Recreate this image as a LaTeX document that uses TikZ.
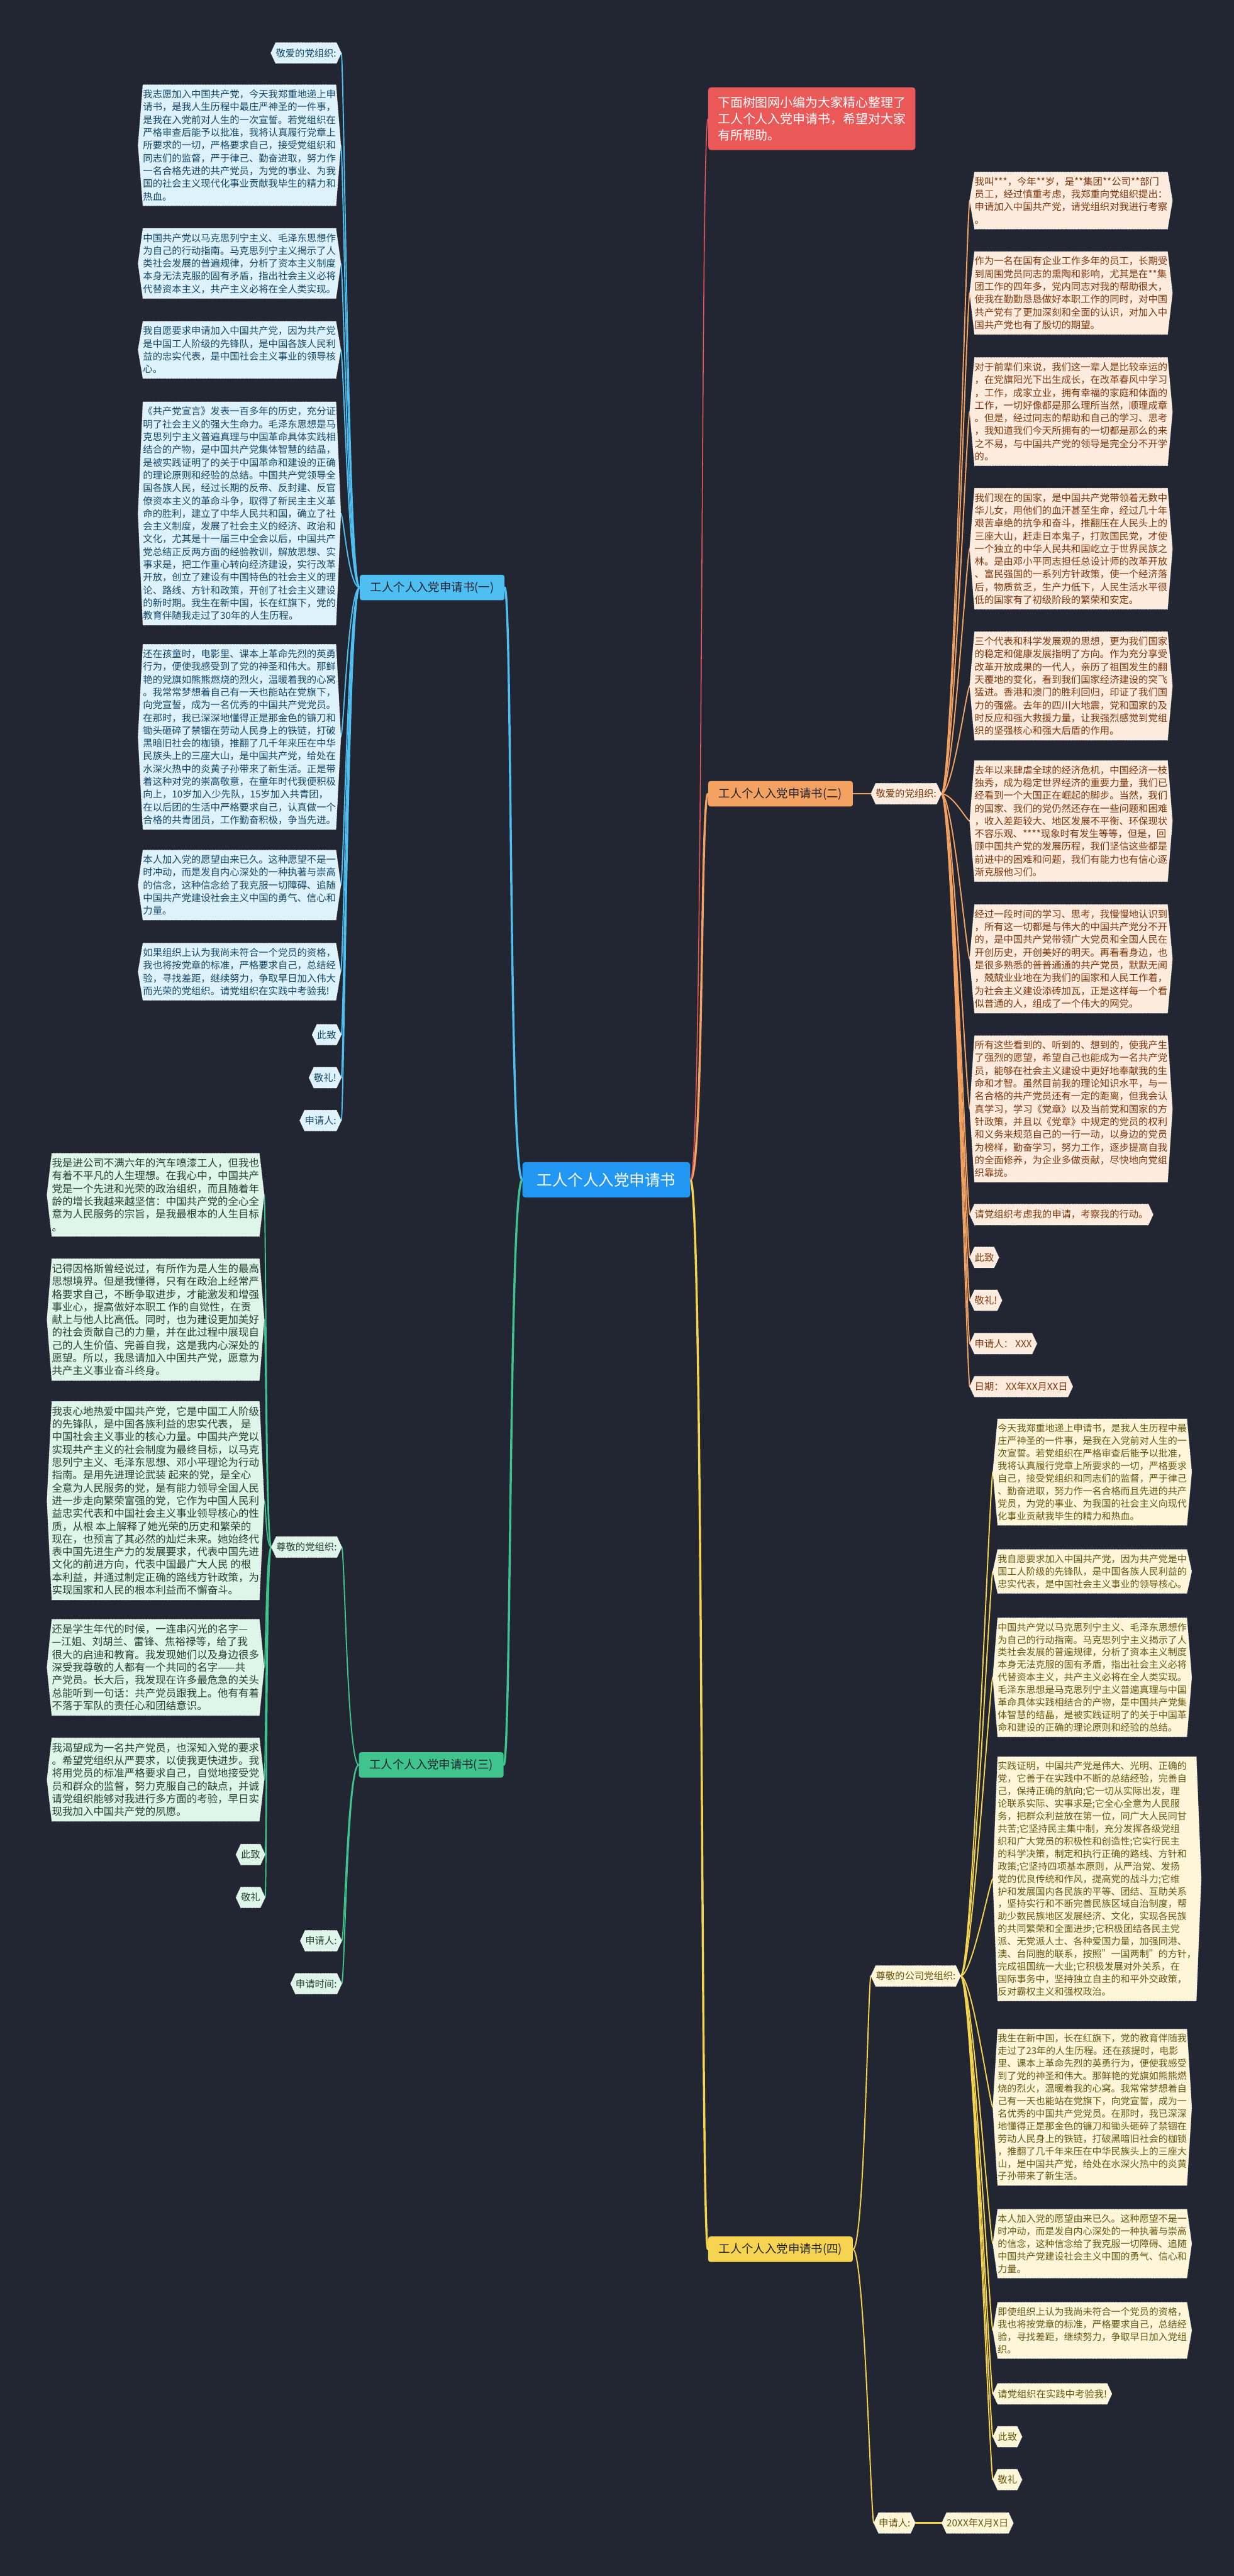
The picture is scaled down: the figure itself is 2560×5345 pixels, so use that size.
\documentclass[tikz,border=0pt]{standalone}
\usepackage{fontspec}
\setmainfont{Noto Sans CJK SC}
\usetikzlibrary{calc}
\pgfdeclarelayer{lines}\pgfdeclarelayer{bg}
\pgfsetlayers{lines,bg,main}
\definecolor{bgc}{RGB}{34,38,50}
\definecolor{cblue}{RGB}{79,190,240}
\definecolor{cgreen}{RGB}{62,196,140}
\definecolor{corange}{RGB}{244,162,97}
\definecolor{cyellow}{RGB}{246,212,80}
\definecolor{cred}{RGB}{234,88,88}
\definecolor{croot}{RGB}{33,150,243}
\definecolor{fblue}{RGB}{221,242,251}
\definecolor{tblue}{RGB}{22,72,105}
\definecolor{fgreen}{RGB}{222,245,233}
\definecolor{tgreen}{RGB}{36,64,50}
\definecolor{forange}{RGB}{253,236,222}
\definecolor{torange}{RGB}{125,55,12}
\definecolor{fyellow}{RGB}{253,246,216}
\definecolor{tyellow}{RGB}{105,88,18}
\definecolor{tdark}{RGB}{30,34,46}
\newcommand\mmbox[7][]{%
  \node[boxtext, text=#4, anchor=#5, #1] (#2) at (#6) {#7};
  \begin{pgfonlayer}{bg}
    \path[fill=#3, draw=white, densely dotted, line width=1.2pt]
      ([xshift=10pt]#2.north west) -- ([xshift=-10pt]#2.north east) -- (#2.east)
      -- ([xshift=-10pt]#2.south east) -- ([xshift=10pt]#2.south west) -- (#2.west) -- cycle;
  \end{pgfonlayer}%
}
\begin{document}
\begin{tikzpicture}[x=1pt,y=-1pt,
  boxtext/.style={align=left, inner xsep=10pt, inner ysep=10pt, font=\fontsize{20}{26.5}\selectfont},
  ybox/.style={font=\fontsize{19.6}{26}\selectfont},
  gbox/.style={font=\fontsize{21.5}{26.5}\selectfont},
  lab/.style={inner ysep=12pt},
  rootn/.style={fill=croot, text=white, rounded corners=6pt, inner xsep=30pt, inner ysep=22pt, font=\fontsize{32}{36}\selectfont},
  titlen/.style={fill=cred, text=white, rounded corners=6pt, align=left, inner xsep=20pt, inner ysep=19pt, font=\fontsize{26}{34}\selectfont},
  brn/.style={text=tdark, rounded corners=5pt, inner xsep=22pt, inner ysep=14pt, font=\fontsize{24}{28}\selectfont},
  con/.style={line width=4.5pt, line cap=round},
  sub/.style={line width=2.5pt, line cap=round}]
\begin{pgfonlayer}{lines}
\fill[bgc] (0,0) rectangle (2560,5345);
\end{pgfonlayer}
\useasboundingbox (0,0) rectangle (2560,5345);

% ---------- root, title, branches ----------
\node[rootn] (root) at (1258,2448) {工人个人入党申请书};
\node[titlen, anchor=north west] (title) at (1469,181) {下面树图网小编为大家精心整理了\\工人个人入党申请书，希望对大家\\有所帮助。};
\node[brn, fill=cblue, anchor=east] (b1) at (1047,1219) {工人个人入党申请书(一)};
\node[brn, fill=corange, anchor=west] (b2) at (1469,1647) {工人个人入党申请书(二)};
\node[brn, fill=cgreen, anchor=east] (b3) at (1045,3662) {工人个人入党申请书(三)};
\node[brn, fill=cyellow, anchor=west] (b4) at (1469,4667) {工人个人入党申请书(四)};

% ---------- branch (一) ----------
\mmbox[lab]{a0}{fblue}{tblue}{east}{708,110}{敬爱的党组织:}
\mmbox{a1}{fblue}{tblue}{north east}{707,176}{我志愿加入中国共产党，今天我郑重地递上申\\
请书，是我人生历程中最庄严神圣的一件事，\\
是我在入党前对人生的一次宣誓。若党组织在\\
严格审查后能予以批准，我将认真履行党章上\\
所要求的一切，严格要求自己，接受党组织和\\
同志们的监督，严于律己、勤奋进取，努力作\\
一名合格先进的共产党员，为党的事业、为我\\
国的社会主义现代化事业贡献我毕生的精力和\\
热血。}
\mmbox{a2}{fblue}{tblue}{north east}{707,474}{中国共产党以马克思列宁主义、毛泽东思想作\\
为自己的行动指南。马克思列宁主义揭示了人\\
类社会发展的普遍规律，分析了资本主义制度\\
本身无法克服的固有矛盾，指出社会主义必将\\
代替资本主义，共产主义必将在全人类实现。}
\mmbox{a3}{fblue}{tblue}{north east}{707,667}{我自愿要求申请加入中国共产党，因为共产党\\
是中国工人阶级的先锋队，是中国各族人民利\\
益的忠实代表，是中国社会主义事业的领导核\\
心。}
\mmbox{a4}{fblue}{tblue}{north east}{707,834}{《共产党宣言》发表一百多年的历史，充分证\\
明了社会主义的强大生命力。毛泽东思想是马\\
克思列宁主义普遍真理与中国革命具体实践相\\
结合的产物，是中国共产党集体智慧的结晶，\\
是被实践证明了的关于中国革命和建设的正确\\
的理论原则和经验的总结。中国共产党领导全\\
国各族人民，经过长期的反帝、反封建、反官\\
僚资本主义的革命斗争，取得了新民主主义革\\
命的胜利，建立了中华人民共和国，确立了社\\
会主义制度，发展了社会主义的经济、政治和\\
文化，尤其是十一届三中全会以后，中国共产\\
党总结正反两方面的经验教训，解放思想、实\\
事求是，把工作重心转向经济建设，实行改革\\
开放，创立了建设有中国特色的社会主义的理\\
论、路线、方针和政策，开创了社会主义建设\\
的新时期。我生在新中国，长在红旗下，党的\\
教育伴随我走过了30年的人生历程。}
\mmbox{a5}{fblue}{tblue}{north east}{707,1337}{还在孩童时，电影里、课本上革命先烈的英勇\\
行为，便使我感受到了党的神圣和伟大。那鲜\\
艳的党旗如熊熊燃烧的烈火，温暖着我的心窝\\
。我常常梦想着自己有一天也能站在党旗下，\\
向党宣誓，成为一名优秀的中国共产党党员。\\
在那时，我已深深地懂得正是那金色的镰刀和\\
锄头砸碎了禁锢在劳动人民身上的铁链，打破\\
黑暗旧社会的枷锁，推翻了几千年来压在中华\\
民族头上的三座大山，是中国共产党，给处在\\
水深火热中的炎黄子孙带来了新生活。正是带\\
着这种对党的崇高敬意，在童年时代我便积极\\
向上，10岁加入少先队，15岁加入共青团，\\
在以后团的生活中严格要求自己，认真做一个\\
合格的共青团员，工作勤奋积极，争当先进。}
\mmbox{a6}{fblue}{tblue}{north east}{707,1764}{本人加入党的愿望由来已久。这种愿望不是一\\
时冲动，而是发自内心深处的一种执著与崇高\\
的信念，这种信念给了我克服一切障碍、追随\\
中国共产党建设社会主义中国的勇气、信心和\\
力量。}
\mmbox{a7}{fblue}{tblue}{north east}{707,1957}{如果组织上认为我尚未符合一个党员的资格，\\
我也将按党章的标准，严格要求自己，总结经\\
验，寻找差距，继续努力，争取早日加入伟大\\
而光荣的党组织。请党组织在实践中考验我!}
\mmbox[lab]{a8}{fblue}{tblue}{east}{708,2147}{此致}
\mmbox[lab]{a9}{fblue}{tblue}{east}{708,2236}{敬礼!}
\mmbox[lab]{a10}{fblue}{tblue}{east}{708,2325}{申请人:}

% ---------- branch (三) ----------
\mmbox[lab]{c0}{fgreen}{tgreen}{east}{709,3210}{尊敬的党组织:}
\mmbox[gbox]{c1}{fgreen}{tgreen}{north east}{548,2393}{我是进公司不满六年的汽车喷漆工人，但我也\\
有着不平凡的人生理想。在我心中，中国共产\\
党是一个先进和光荣的政治组织，而且随着年\\
龄的增长我越来越坚信：中国共产党的全心全\\
意为人民服务的宗旨，是我最根本的人生目标\\
。}
\mmbox[gbox]{c2}{fgreen}{tgreen}{north east}{548,2612}{记得因格斯曾经说过，有所作为是人生的最高\\
思想境界。但是我懂得，只有在政治上经常严\\
格要求自己，不断争取进步，才能激发和增强\\
事业心，提高做好本职工 作的自觉性，在贡\\
献上与他人比高低。同时，也为建设更加美好\\
的社会贡献自己的力量，并在此过程中展现自\\
己的人生价值、完善自我，这是我内心深处的\\
愿望。所以，我恳请加入中国共产党，愿意为\\
共产主义事业奋斗终身。}
\mmbox[gbox]{c3}{fgreen}{tgreen}{north east}{548,2908}{我衷心地热爱中国共产党，它是中国工人阶级\\
的先锋队，是中国各族利益的忠实代表， 是\\
中国社会主义事业的核心力量。中国共产党以\\
实现共产主义的社会制度为最终目标，以马克\\
思列宁主义、毛泽东思想、邓小平理论为行动\\
指南。是用先进理论武装 起来的党，是全心\\
全意为人民服务的党，是有能力领导全国人民\\
进一步走向繁荣富强的党，它作为中国人民利\\
益忠实代表和中国社会主义事业领导核心的性\\
质，从根 本上解释了她光荣的历史和繁荣的\\
现在，也预言了其必然的灿烂未来。她始终代\\
表中国先进生产力的发展要求，代表中国先进\\
文化的前进方向，代表中国最广大人民 的根\\
本利益，并通过制定正确的路线方针政策，为\\
实现国家和人民的根本利益而不懈奋斗。}
\mmbox[gbox]{c4}{fgreen}{tgreen}{north east}{548,3360}{还是学生年代的时候，一连串闪光的名字—\\
—江姐、刘胡兰、雷锋、焦裕禄等，给了我\\
很大的启迪和教育。我发现她们以及身边很多\\
深受我尊敬的人都有一个共同的名字——共\\
产党员。长大后，我发现在许多最危急的关头\\
总能听到一句话：共产党员跟我上。他有有着\\
不落于军队的责任心和团结意识。}
\mmbox[gbox]{c5}{fgreen}{tgreen}{north east}{548,3606}{我渴望成为一名共产党员，也深知入党的要求\\
。希望党组织从严要求，以使我更快进步。我\\
将用党员的标准严格要求自己，自觉地接受党\\
员和群众的监督，努力克服自己的缺点，并诚\\
请党组织能够对我进行多方面的考验，早日实\\
现我加入中国共产党的夙愿。}
\mmbox[lab]{c6}{fgreen}{tgreen}{east}{550,3848}{此致}
\mmbox[lab]{c7}{fgreen}{tgreen}{east}{550,3937}{敬礼}
\mmbox[lab]{c8}{fgreen}{tgreen}{east}{709,4027}{申请人:}
\mmbox[lab]{c9}{fgreen}{tgreen}{east}{709,4116}{申请时间:}

% ---------- branch (二) ----------
\mmbox[lab]{d0}{forange}{torange}{west}{1807,1647}{敬爱的党组织:}
\mmbox{d1}{forange}{torange}{north west}{2012,357}{我叫***，今年**岁，是**集团**公司**部门\\
员工，经过慎重考虑，我郑重向党组织提出：\\
申请加入中国共产党，请党组织对我进行考察\\
。}
\mmbox{d2}{forange}{torange}{north west}{2012,522}{作为一名在国有企业工作多年的员工，长期受\\
到周围党员同志的熏陶和影响，尤其是在**集\\
团工作的四年多，党内同志对我的帮助很大，\\
使我在勤勤恳恳做好本职工作的同时，对中国\\
共产党有了更加深刻和全面的认识，对加入中\\
国共产党也有了殷切的期望。}
\mmbox{d3}{forange}{torange}{north west}{2012,742}{对于前辈们来说，我们这一辈人是比较幸运的\\
，在党旗阳光下出生成长，在改革春风中学习\\
，工作，成家立业，拥有幸福的家庭和体面的\\
工作，一切好像都是那么理所当然，顺理成章\\
。但是，经过同志的帮助和自己的学习、思考\\
，我知道我们今天所拥有的一切都是那么的来\\
之不易，与中国共产党的领导是完全分不开学\\
的。}
\mmbox{d4}{forange}{torange}{north west}{2012,1013}{我们现在的国家，是中国共产党带领着无数中\\
华儿女，用他们的血汗甚至生命，经过几十年\\
艰苦卓绝的抗争和奋斗，推翻压在人民头上的\\
三座大山，赶走日本鬼子，打败国民党，才使\\
一个独立的中华人民共和国屹立于世界民族之\\
林。是由邓小平同志担任总设计师的改革开放\\
、富民强国的一系列方针政策，使一个经济落\\
后，物质贫乏，生产力低下，人民生活水平很\\
低的国家有了初级阶段的繁荣和安定。}
\mmbox{d5}{forange}{torange}{north west}{2012,1311}{三个代表和科学发展观的思想，更为我们国家\\
的稳定和健康发展指明了方向。作为充分享受\\
改革开放成果的一代人，亲历了祖国发生的翻\\
天覆地的变化，看到我们国家经济建设的突飞\\
猛进。香港和澳门的胜利回归，印证了我们国\\
力的强盛。去年的四川大地震，党和国家的及\\
时反应和强大救援力量，让我强烈感觉到党组\\
织的坚强核心和强大后盾的作用。}
\mmbox{d6}{forange}{torange}{north west}{2012,1578}{去年以来肆虐全球的经济危机，中国经济一枝\\
独秀，成为稳定世界经济的重要力量，我们已\\
经看到一个大国正在崛起的脚步。当然，我们\\
的国家、我们的党仍然还存在一些问题和困难\\
，收入差距较大、地区发展不平衡、环保现状\\
不容乐观、****现象时有发生等等，但是，回\\
顾中国共产党的发展历程，我们坚信这些都是\\
前进中的困难和问题，我们有能力也有信心逐\\
渐克服他习们。}
\mmbox{d7}{forange}{torange}{north west}{2012,1877}{经过一段时间的学习、思考，我慢慢地认识到\\
，所有这一切都是与伟大的中国共产党分不开\\
的，是中国共产党带领广大党员和全国人民在\\
开创历史，开创美好的明天。再看看身边，也\\
是很多熟悉的普普通通的共产党员，默默无闻\\
，兢兢业业地在为我们的国家和人民工作着，\\
为社会主义建设添砖加瓦，正是这样每一个看\\
似普通的人，组成了一个伟大的网党。}
\mmbox{d8}{forange}{torange}{north west}{2012,2149}{所有这些看到的、听到的、想到的，使我产生\\
了强烈的愿望，希望自己也能成为一名共产党\\
员，能够在社会主义建设中更好地奉献我的生\\
命和才智。虽然目前我的理论知识水平，与一\\
名合格的共产党员还有一定的距离，但我会认\\
真学习，学习《党章》以及当前党和国家的方\\
针政策，并且以《党章》中规定的党员的权利\\
和义务来规范自己的一行一动，以身边的党员\\
为榜样，勤奋学习，努力工作，逐步提高自我\\
的全面修养，为企业多做贡献，尽快地向党组\\
织靠拢。}
\mmbox[lab]{d9}{forange}{torange}{west}{2012,2520}{请党组织考虑我的申请，考察我的行动。}
\mmbox[lab]{d10}{forange}{torange}{west}{2012,2609}{此致}
\mmbox[lab]{d11}{forange}{torange}{west}{2012,2698}{敬礼!}
\mmbox[lab]{d12}{forange}{torange}{west}{2012,2788}{申请人： XXX}
\mmbox[lab]{d13}{forange}{torange}{west}{2012,2877}{日期： XX年XX月XX日}

% ---------- branch (四) ----------
\mmbox[lab]{e0}{fyellow}{tyellow}{west}{1807,4100}{尊敬的公司党组织:}
\mmbox[ybox]{e1}{fyellow}{tyellow}{north west}{2060,2944}{今天我郑重地递上申请书，是我人生历程中最\\
庄严神圣的一件事，是我在入党前对人生的一\\
次宣誓。若党组织在严格审查后能予以批准，\\
我将认真履行党章上所要求的一切，严格要求\\
自己，接受党组织和同志们的监督，严于律己\\
、勤奋进取，努力作一名合格而且先进的共产\\
党员，为党的事业、为我国的社会主义向现代\\
化事业贡献我毕生的精力和热血。}
\mmbox[ybox]{e2}{fyellow}{tyellow}{north west}{2060,3215}{我自愿要求加入中国共产党，因为共产党是中\\
国工人阶级的先锋队，是中国各族人民利益的\\
忠实代表，是中国社会主义事业的领导核心。}
\mmbox[ybox]{e3}{fyellow}{tyellow}{north west}{2060,3357}{中国共产党以马克思列宁主义、毛泽东思想作\\
为自己的行动指南。马克思列宁主义揭示了人\\
类社会发展的普遍规律，分析了资本主义制度\\
本身无法克服的固有矛盾，指出社会主义必将\\
代替资本主义，共产主义必将在全人类实现。\\
毛泽东思想是马克思列宁主义普遍真理与中国\\
革命具体实践相结合的产物，是中国共产党集\\
体智慧的结晶，是被实践证明了的关于中国革\\
命和建设的正确的理论原则和经验的总结。}
\mmbox[ybox]{e4}{fyellow}{tyellow}{north west}{2060,3645}{实践证明，中国共产党是伟大、光明、正确的\\
党，它善于在实践中不断的总结经验，完善自\\
己，保持正确的航向;它一切从实际出发，理\\
论联系实际、实事求是;它全心全意为人民服\\
务，把群众利益放在第一位，同广大人民同甘\\
共苦;它坚持民主集中制，充分发挥各级党组\\
织和广大党员的积极性和创造性;它实行民主\\
的科学决策，制定和执行正确的路线、方针和\\
政策;它坚持四项基本原则，从严治党、发扬\\
党的优良传统和作风，提高党的战斗力;它维\\
护和发展国内各民族的平等、团结、互助关系\\
，坚持实行和不断完善民族区域自治制度，帮\\
助少数民族地区发展经济、文化，实现各民族\\
的共同繁荣和全面进步;它积极团结各民主党\\
派、无党派人士、各种爱国力量，加强同港、\\
澳、台同胞的联系，按照"一国两制"的方针，\\
完成祖国统一大业;它积极发展对外关系，在\\
国际事务中，坚持独立自主的和平外交政策，\\
反对霸权主义和强权政治。}
\mmbox[ybox]{e5}{fyellow}{tyellow}{north west}{2060,4210}{我生在新中国，长在红旗下，党的教育伴随我\\
走过了23年的人生历程。还在孩提时，电影\\
里、课本上革命先烈的英勇行为，便使我感受\\
到了党的神圣和伟大。那鲜艳的党旗如熊熊燃\\
烧的烈火，温暖着我的心窝。我常常梦想着自\\
己有一天也能站在党旗下，向党宣誓，成为一\\
名优秀的中国共产党党员。在那时，我已深深\\
地懂得正是那金色的镰刀和锄头砸碎了禁锢在\\
劳动人民身上的铁链，打破黑暗旧社会的枷锁\\
，推翻了几千年来压在中华民族头上的三座大\\
山，是中国共产党，给处在水深火热中的炎黄\\
子孙带来了新生活。}
\mmbox[ybox]{e6}{fyellow}{tyellow}{north west}{2060,4584}{本人加入党的愿望由来已久。这种愿望不是一\\
时冲动，而是发自内心深处的一种执著与崇高\\
的信念，这种信念给了我克服一切障碍、追随\\
中国共产党建设社会主义中国的勇气、信心和\\
力量。}
\mmbox[ybox]{e7}{fyellow}{tyellow}{north west}{2060,4777}{即使组织上认为我尚未符合一个党员的资格，\\
我也将按党章的标准，严格要求自己，总结经\\
验，寻找差距，继续努力，争取早日加入党组\\
织。}
\mmbox[lab]{e8}{fyellow}{tyellow}{west}{2060,4967}{请党组织在实践中考验我!}
\mmbox[lab]{e9}{fyellow}{tyellow}{west}{2060,5056}{此致}
\mmbox[lab]{e10}{fyellow}{tyellow}{west}{2060,5145}{敬礼}
\mmbox[lab]{e11}{fyellow}{tyellow}{west}{1813,5235}{申请人:}
\mmbox[lab]{e12}{fyellow}{tyellow}{west}{1954,5235}{20XX年X月X日}

% ---------- connectors ----------
\begin{pgfonlayer}{lines}
\draw[con, cblue] (root.west) .. controls +(-28,0) and +(16,0) .. (b1.east);
\draw[con, cgreen] (root.west) .. controls +(-28,0) and +(16,0) .. (b3.east);
\draw[con, corange] (root.east) .. controls +(28,0) and +(-16,0) .. (b2.west);
\draw[con, cyellow] (root.east) .. controls +(28,0) and +(-16,0) .. (b4.west);
\draw[line width=2pt, cred] (root.east) .. controls +(28,0) and +(-16,0) .. (title.west);
\foreach \n in {a0,a1,a2,a3,a4,a5,a6,a7,a8,a9,a10}
  \draw[sub, cblue] (b1.west) .. controls +(-24,0) and +(6,0) .. (\n.east);
\foreach \n in {c0,c8,c9}
  \draw[sub, cgreen] (b3.west) .. controls +(-24,0) and +(6,0) .. (\n.east);
\foreach \n in {c1,c2,c3,c4,c5,c6,c7}
  \draw[sub, cgreen] (c0.west) .. controls +(-12,0) and +(4,0) .. (\n.east);
\draw[sub, corange] (b2.east) -- (d0.west);
\foreach \n in {d1,d2,d3,d4,d5,d6,d7,d8,d9,d10,d11,d12,d13}
  \draw[sub, corange] (d0.east) .. controls +(24,0) and +(-6,0) .. (\n.west);
\foreach \n in {e0,e11}
  \draw[sub, cyellow] (b4.east) .. controls +(24,0) and +(-6,0) .. (\n.west);
\foreach \n in {e1,e2,e3,e4,e5,e6,e7,e8,e9,e10}
  \draw[sub, cyellow] (e0.east) .. controls +(24,0) and +(-6,0) .. (\n.west);
\draw[sub, cyellow, line width=4pt] (e11.east) -- (e12.west);
\end{pgfonlayer}
\end{tikzpicture}
\end{document}
